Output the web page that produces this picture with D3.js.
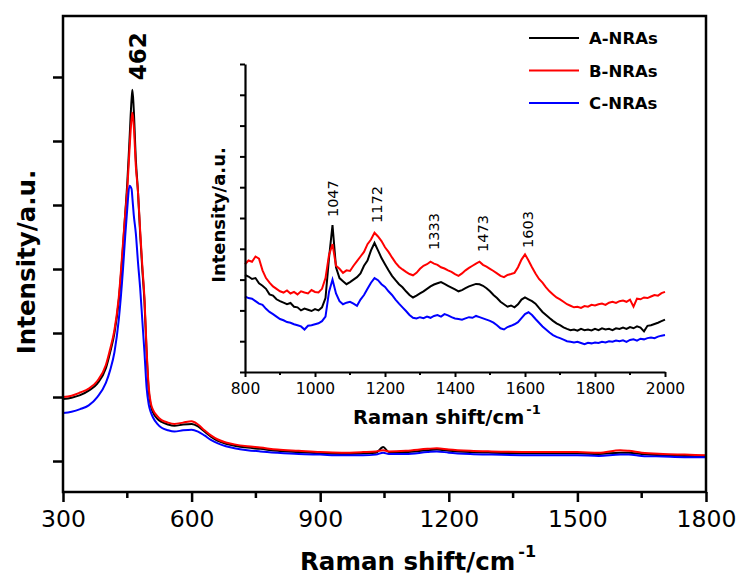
<!DOCTYPE html>
<html>
<head>
<meta charset="utf-8">
<script src="https://cdn.jsdelivr.net/npm/d3@7"></script>
<style>
  body { margin: 0; background: #fff; }
  text { font-family: "DejaVu Sans", sans-serif; fill: #000; }
</style>
</head>
<body>
<div id="chart"></div>
<script>
(function(){
  'use strict';

  // main spectrum, 300-1800 cm-1
  var mainShift = [300,320,340,360,380,400,410,420,430,440,445,450,455,460,462,465,470,475,480,485,490,495,500,505,510,
    520,530,545,560,580,600,615,630,645,660,680,700,730,760,800,850,900,950,1000,1030,
    1047,1060,1100,1150,1172,1200,1250,1300,1400,1500,1550,1600,1620,1650,1700,1750,1800];
  var mainA = [0.97,0.99,1.03,1.10,1.21,1.45,1.70,2.00,2.50,3.35,3.85,4.35,5.00,5.65,5.80,5.50,4.70,4.20,3.55,3.00,2.50,1.70,1.10,0.86,0.76,
    0.66,0.61,0.57,0.55,0.57,0.58,0.54,0.46,0.38,0.32,0.27,0.24,0.21,0.19,0.16,0.14,0.12,0.11,0.12,0.13,
    0.22,0.14,0.14,0.17,0.18,0.16,0.14,0.13,0.12,0.12,0.11,0.13,0.13,0.11,0.09,0.08,0.08];
  var mainB = [1.00,1.02,1.07,1.13,1.25,1.50,1.75,2.05,2.55,3.40,3.85,4.25,4.85,5.35,5.44,5.25,4.60,4.20,3.60,3.05,2.55,1.75,1.15,0.90,0.80,
    0.70,0.64,0.60,0.58,0.60,0.62,0.57,0.48,0.40,0.34,0.29,0.26,0.23,0.21,0.18,0.16,0.14,0.13,0.14,0.15,
    0.17,0.15,0.16,0.19,0.20,0.18,0.16,0.15,0.14,0.14,0.13,0.17,0.16,0.13,0.11,0.10,0.09];
  var mainC = [0.75,0.77,0.81,0.87,1.00,1.22,1.42,1.70,2.20,3.00,3.50,3.95,4.30,4.25,4.10,3.85,3.55,3.10,2.70,2.20,1.70,1.15,0.88,0.76,0.68,
    0.58,0.52,0.48,0.46,0.48,0.49,0.46,0.40,0.33,0.28,0.23,0.20,0.17,0.15,0.13,0.11,0.10,0.09,0.09,0.10,
    0.13,0.11,0.11,0.14,0.15,0.13,0.11,0.10,0.09,0.09,0.08,0.10,0.10,0.08,0.07,0.06,0.06];

  // inset spectrum, 800-2000 cm-1 every 10
  var insetShift = d3.range(800, 2001, 10);
  var insetA = [3.15,3.10,3.02,3.05,2.88,2.80,2.70,2.52,2.48,2.36,
    2.30,2.25,2.20,2.24,2.12,2.10,2.00,2.06,2.02,1.98,
    2.04,2.00,2.10,2.40,3.70,4.77,3.40,3.05,2.95,2.85,
    2.92,3.00,3.08,3.20,3.45,3.62,3.95,4.19,3.95,3.70,
    3.50,3.30,3.12,2.98,2.85,2.75,2.62,2.50,2.42,2.48,
    2.55,2.62,2.70,2.78,2.84,2.88,2.92,2.86,2.80,2.74,
    2.68,2.62,2.66,2.72,2.78,2.82,2.86,2.85,2.80,2.72,
    2.62,2.50,2.40,2.28,2.20,2.12,2.16,2.10,2.20,2.35,
    2.42,2.36,2.30,2.22,2.08,1.95,1.85,1.75,1.66,1.58,
    1.52,1.45,1.40,1.36,1.38,1.34,1.40,1.36,1.38,1.35,
    1.40,1.36,1.42,1.38,1.40,1.36,1.42,1.40,1.44,1.40,
    1.46,1.42,1.48,1.44,1.32,1.50,1.52,1.56,1.60,1.65,
    1.70];
  var insetB = [3.50,3.62,3.58,3.75,3.68,3.30,3.05,2.90,2.78,2.70,
    2.62,2.58,2.65,2.55,2.60,2.52,2.62,2.58,2.55,2.66,
    2.60,2.58,2.70,3.05,3.80,4.15,3.45,3.35,3.22,3.30,
    3.28,3.45,3.60,3.75,3.90,4.15,4.30,4.52,4.40,4.25,
    4.05,3.90,3.72,3.55,3.42,3.33,3.25,3.18,3.14,3.22,
    3.35,3.45,3.50,3.58,3.52,3.48,3.40,3.36,3.30,3.25,
    3.18,3.12,3.20,3.30,3.38,3.45,3.52,3.58,3.48,3.42,
    3.35,3.28,3.20,3.12,3.08,3.15,3.18,3.22,3.40,3.65,
    3.82,3.62,3.40,3.20,3.02,2.90,2.75,2.62,2.52,2.42,
    2.36,2.28,2.20,2.15,2.10,2.12,2.08,2.14,2.12,2.18,
    2.16,2.20,2.22,2.18,2.25,2.28,2.24,2.30,2.32,2.28,
    2.35,2.12,2.38,2.36,2.42,2.40,2.45,2.50,2.48,2.56,
    2.60];
  var insetC = [2.45,2.40,2.38,2.30,2.22,2.18,2.05,1.95,1.88,1.80,
    1.72,1.68,1.62,1.60,1.55,1.52,1.48,1.38,1.50,1.52,
    1.55,1.58,1.65,1.80,2.60,3.00,2.55,2.30,2.20,2.25,
    2.28,2.22,2.15,2.35,2.50,2.70,2.90,3.05,2.98,2.85,
    2.76,2.62,2.50,2.35,2.22,2.10,1.98,1.85,1.76,1.74,
    1.78,1.75,1.80,1.76,1.82,1.85,1.80,1.88,1.84,1.78,
    1.74,1.72,1.70,1.74,1.78,1.76,1.82,1.78,1.74,1.70,
    1.66,1.60,1.52,1.42,1.38,1.46,1.50,1.55,1.62,1.75,
    1.88,1.94,1.85,1.72,1.60,1.48,1.38,1.28,1.20,1.14,
    1.10,1.05,1.00,0.98,0.96,0.98,0.94,0.90,0.95,0.93,
    0.96,0.94,0.98,0.96,1.00,0.98,1.02,1.00,1.03,0.98,
    1.04,1.06,1.02,1.08,1.06,1.10,1.12,1.10,1.15,1.18,
    1.20];

  var seriesNames = ['A-NRAs', 'B-NRAs', 'C-NRAs'];
  var seriesColors = ['#000000', '#ff0000', '#0000ff'];

  var mainTicks = [300, 600, 900, 1200, 1500, 1800];
  var mainMinor = [450, 750, 1050, 1350, 1650];
  var insetTicks = [800, 1000, 1200, 1400, 1600, 1800, 2000];
  var insetMinor = [900, 1100, 1300, 1500, 1700, 1900];

  var mainPeak = [462], mainPeakY = [5.95];
  var insetPeaks = [1047, 1172, 1333, 1473, 1603];
  var insetPeakY = [5.03, 4.84, 3.96, 3.9, 4.03];

  var w = 739, h = 576;
  var svg = d3.select('#chart').append('svg')
    .attr('width', w)
    .attr('height', h);

  // ---- main plot
  var x = d3.scaleLinear().domain([300, 1800]).range([63, 706]),
      y = d3.scaleLinear().domain([-0.484, 6.953]).range([492, 16]);

  var line = d3.line()
    .x(function(d){ return x(d[0]); })
    .y(function(d){ return y(d[1]); })
    .curve(d3.curveMonotoneX);

  [mainA, mainB, mainC].forEach(function(vals, i){
    svg.append('path')
      .datum(mainShift.map(function(s, j){ return [s, vals[j]]; }))
      .attr('d', line)
      .attr('fill', 'none')
      .attr('stroke', seriesColors[i])
      .attr('stroke-width', 2);
  });

  var xAxis = svg.append('g')
    .attr('transform', 'translate(0,492)')
    .call(d3.axisBottom(x).tickValues(mainTicks).tickSize(10).tickPadding(8).tickFormat(d3.format('d')));
  xAxis.append('g').selectAll('line').data(mainMinor).enter().append('line')
    .attr('x1', function(d){ return x(d); }).attr('x2', function(d){ return x(d); })
    .attr('y1', 0).attr('y2', 6).attr('stroke', '#000').attr('stroke-width', 2.5);
  xAxis.selectAll('text').style('font-size', '23.5px');

  var yAxis = svg.append('g')
    .attr('transform', 'translate(63,0)')
    .call(d3.axisLeft(y).tickValues([0, 1, 2, 3, 4, 5, 6]).tickSize(10).tickFormat(''));

  [xAxis, yAxis].forEach(function(g){
    g.select('.domain').remove();
    g.selectAll('line').attr('stroke', '#000').attr('stroke-width', 2.5);
  });

  svg.append('rect')
    .attr('x', 63).attr('y', 16)
    .attr('width', 706 - 63).attr('height', 492 - 16)
    .attr('fill', 'none').attr('stroke', '#000').attr('stroke-width', 2.5);

  svg.selectAll('.mainpeak').data(mainPeak).enter().append('text')
    .attr('transform', function(d, i){ return 'translate(' + (x(d) + 14) + ',' + y(mainPeakY[i]) + ') rotate(-90)'; })
    .style('font-size', '23px').style('font-weight', 'bold')
    .text(function(d){ return d; });

  svg.append('text')
    .attr('transform', 'translate(35,262) rotate(-90)')
    .attr('text-anchor', 'middle')
    .style('font-size', '24.5px').style('font-weight', 'bold')
    .text('Intensity/a.u.');

  var xt = svg.append('text')
    .attr('x', 300).attr('y', 570)
    .style('font-size', '24.5px').style('font-weight', 'bold');
  xt.append('tspan').text('Raman shift/cm');
  xt.append('tspan').attr('dx', 3).attr('dy', -13).style('font-size', '16px').text('-1');

  // ---- inset
  var xi = d3.scaleLinear().domain([800, 2000]).range([245, 665]),
      yi = d3.scaleLinear().domain([0, 10]).range([372, 64]);

  var iline = d3.line()
    .x(function(d){ return xi(d[0]); })
    .y(function(d){ return yi(d[1]); });

  [insetA, insetB, insetC].forEach(function(vals, i){
    svg.append('path')
      .datum(insetShift.map(function(s, j){ return [s, vals[j]]; }))
      .attr('d', iline)
      .attr('fill', 'none')
      .attr('stroke', seriesColors[i])
      .attr('stroke-width', 2);
  });

  var ix = svg.append('g')
    .attr('transform', 'translate(0,372)')
    .call(d3.axisBottom(xi).tickValues(insetTicks).tickSize(5).tickSizeOuter(0).tickPadding(6).tickFormat(d3.format('d')));
  ix.append('g').selectAll('line').data(insetMinor).enter().append('line')
    .attr('x1', function(d){ return xi(d); }).attr('x2', function(d){ return xi(d); })
    .attr('y1', 0).attr('y2', 3);
  ix.selectAll('text').style('font-size', '15.5px');

  var iy = svg.append('g')
    .attr('transform', 'translate(245,0)')
    .call(d3.axisLeft(yi).ticks(10).tickSize(5).tickSizeOuter(0).tickFormat(''));

  [ix, iy].forEach(function(g){
    g.select('.domain').attr('stroke', '#000').attr('stroke-width', 2.2);
    g.selectAll('line').attr('stroke', '#000').attr('stroke-width', 2);
  });

  svg.selectAll('.ipeak').data(insetPeaks).enter().append('text')
    .attr('transform', function(d, i){ return 'translate(' + (xi(d) + 7) + ',' + yi(insetPeakY[i]) + ') rotate(-90)'; })
    .style('font-size', '14.5px')
    .text(function(d){ return d; });

  svg.append('text')
    .attr('transform', 'translate(225,215) rotate(-90)')
    .attr('text-anchor', 'middle')
    .style('font-size', '18px').style('font-weight', 'bold')
    .text('Intensity/a.u.');

  var ixt = svg.append('text')
    .attr('x', 353).attr('y', 424)
    .style('font-size', '19.5px').style('font-weight', 'bold');
  ixt.append('tspan').text('Raman shift/cm');
  ixt.append('tspan').attr('dx', 2).attr('dy', -10).style('font-size', '13px').text('-1');

  // ---- legend
  var leg = svg.selectAll('.leg').data(seriesNames).enter().append('g')
    .attr('transform', function(d, i){ return 'translate(529,' + (38 + i * 32.5) + ')'; });
  leg.append('line')
    .attr('x1', 0).attr('x2', 50)
    .attr('stroke', function(d, i){ return seriesColors[i]; })
    .attr('stroke-width', 2);
  leg.append('text')
    .attr('x', 60).attr('y', 6)
    .style('font-size', '16.5px').style('font-weight', 'bold')
    .text(function(d){ return d; });

}());
</script>
</body>
</html>
